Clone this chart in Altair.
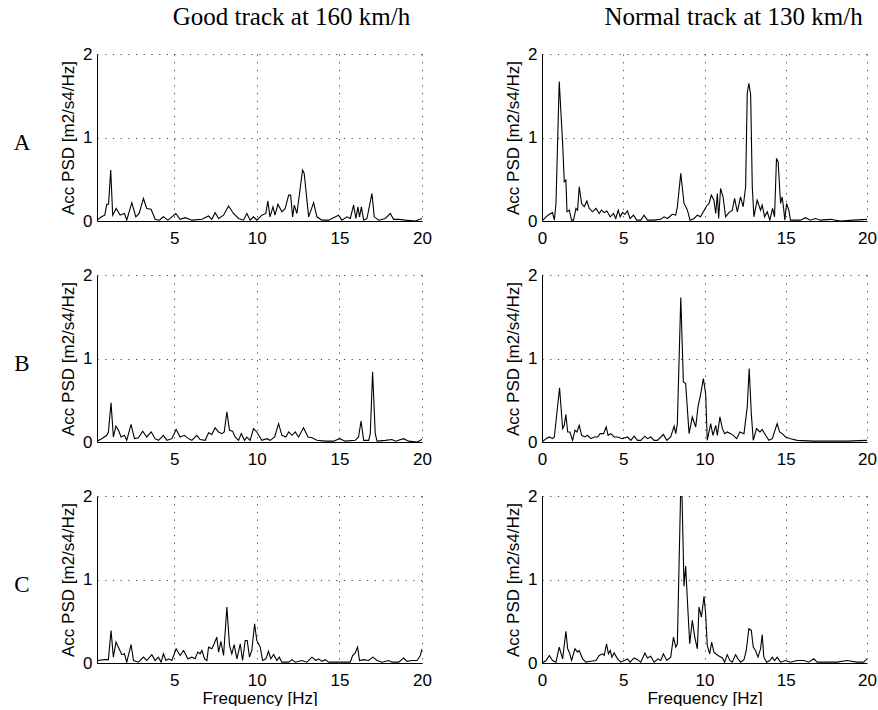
import altair as alt
import pandas as pd

# ---------------- data ----------------
col_titles = ["Good track at 160 km/h", "Normal track at 130 km/h"]
row_labels = ["A", "B", "C"]

a_good_f = [0.33, 0.6, 0.8, 0.92, 1.03, 1.16, 1.28, 1.49, 1.73, 1.99,
            2.13, 2.44, 2.68, 2.88, 3.14, 3.34, 3.6, 3.85, 4.11, 4.35,
            4.62, 4.86, 5.1, 5.36, 5.67, 6.07, 6.68, 7.08, 7.28, 7.48,
            7.69, 7.99, 8.29, 8.59, 8.9, 9.2, 9.4, 9.6, 9.8, 10.0,
            10.31, 10.55, 10.67, 10.8, 10.98, 11.1, 11.28, 11.52, 11.72, 11.93,
            12.05, 12.17, 12.27, 12.43, 12.77, 12.87, 13.14, 13.44, 13.64, 13.94,
            14.35, 14.95, 15.15, 15.46, 15.66, 15.86, 16.0, 16.12, 16.22, 16.33,
            16.47, 16.67, 16.97, 17.11, 17.38, 17.78, 18.08, 18.28, 18.59, 18.99,
            19.6, 20.0]
a_good_v = [0.01, 0.05, 0.07, 0.2, 0.2, 0.61, 0.07, 0.15, 0.07, 0.09,
            0.01, 0.22, 0.05, 0.09, 0.27, 0.15, 0.14, 0.02, 0.01, 0.05,
            0.01, 0.05, 0.09, 0.02, 0.04, 0.01, 0.02, 0.06, 0.02, 0.1,
            0.03, 0.07, 0.18, 0.09, 0.03, 0.01, 0.09, 0.01, 0.05, 0.01,
            0.07, 0.09, 0.24, 0.05, 0.17, 0.07, 0.2, 0.11, 0.15, 0.31,
            0.31, 0.05, 0.19, 0.09, 0.61, 0.57, 0.05, 0.22, 0.05, 0.01,
            0.01, 0.07, 0.01, 0.05, 0.03, 0.19, 0.03, 0.17, 0.05, 0.17,
            0.01, 0.03, 0.33, 0.05, 0.01, 0.03, 0.09, 0.02, 0.02, 0.01,
            0.0, 0.03]

a_norm_f = [0, 0.25, 0.45, 0.65, 0.76, 0.86, 1.06, 1.27, 1.37, 1.47,
            1.54, 1.68, 1.82, 1.94, 2.09, 2.19, 2.29, 2.44, 2.6, 2.76,
            2.91, 3.11, 3.32, 3.52, 3.66, 3.83, 3.99, 4.2, 4.4, 4.54,
            4.69, 4.81, 4.95, 5.1, 5.26, 5.42, 5.63, 5.83, 6.08, 6.28,
            6.49, 6.9, 7.31, 7.51, 7.72, 8.02, 8.23, 8.33, 8.54, 8.74,
            8.95, 9.11, 9.36, 9.56, 9.76, 9.93, 10.13, 10.28, 10.42, 10.58,
            10.69, 10.79, 10.87, 10.99, 11.14, 11.3, 11.5, 11.71, 11.85, 12.02,
            12.22, 12.38, 12.53, 12.63, 12.73, 12.84, 12.94, 13.04, 13.24, 13.45,
            13.55, 13.7, 13.86, 14.02, 14.19, 14.31, 14.43, 14.53, 14.68, 14.78,
            14.88, 14.94, 15.05, 15.19, 15.29, 15.91, 16.21, 16.52, 16.83, 17.13,
            17.75, 18.36, 19.18, 20.0]
a_norm_v = [0, 0.05, 0.08, 0.1, 0.01, 0.21, 1.67, 0.93, 0.47, 0.49,
            0.11, 0.13, 0.01, 0.01, 0.15, 0.13, 0.41, 0.21, 0.17, 0.24,
            0.15, 0.11, 0.15, 0.09, 0.13, 0.1, 0.12, 0.05, 0.09, 0.03,
            0.13, 0.05, 0.1, 0.08, 0.12, 0.03, 0.07, 0.01, 0.01, 0.07,
            0.01, 0.01, 0.02, 0.05, 0.03, 0.08, 0.07, 0.17, 0.57, 0.21,
            0.13, 0.01, 0.03, 0.07, 0.05, 0.11, 0.18, 0.21, 0.31, 0.25,
            0.09, 0.33, 0.03, 0.39, 0.29, 0.05, 0.1, 0.13, 0.27, 0.11,
            0.29, 0.17, 0.41, 1.53, 1.65, 1.51, 0.41, 0.05, 0.25, 0.13,
            0.19, 0.05, 0.11, 0.01, 0.15, 0.05, 0.75, 0.71, 0.21, 0.29,
            0.13, 0.01, 0.21, 0.13, 0.01, 0.01, 0.04, 0.01, 0.03, 0.01,
            0.02, 0.0, 0.01, 0.02]

b_good_f = [0.33, 0.62, 0.92, 1.02, 1.18, 1.32, 1.48, 1.63, 1.79, 1.99,
            2.13, 2.39, 2.6, 2.84, 3.1, 3.34, 3.61, 3.85, 4.05, 4.35,
            4.56, 4.86, 5.12, 5.36, 5.62, 5.87, 6.07, 6.37, 6.57, 6.88,
            7.08, 7.28, 7.48, 7.69, 7.89, 8.03, 8.19, 8.35, 8.53, 8.69,
            8.9, 9.06, 9.26, 9.4, 9.6, 9.8, 10.0, 10.31, 10.61, 10.81,
            11.08, 11.32, 11.52, 11.76, 11.93, 12.13, 12.33, 12.53, 12.83, 13.1,
            13.34, 13.64, 14.15, 14.65, 15.01, 15.36, 15.96, 16.16, 16.31, 16.47,
            16.77, 16.87, 17.01, 17.17, 17.28, 17.78, 18.18, 18.39, 18.89, 19.19,
            19.7, 20.0]
b_good_v = [0.01, 0.04, 0.08, 0.12, 0.47, 0.06, 0.19, 0.14, 0.06, 0.08,
            0.02, 0.21, 0.04, 0.05, 0.13, 0.06, 0.12, 0.04, 0.02, 0.08,
            0.02, 0.04, 0.15, 0.06, 0.08, 0.04, 0.02, 0.08, 0.03, 0.02,
            0.11, 0.09, 0.17, 0.12, 0.1, 0.12, 0.36, 0.14, 0.13, 0.06,
            0.02, 0.1, 0.02, 0.06, 0.02, 0.16, 0.12, 0.02, 0.04, 0.02,
            0.06, 0.22, 0.08, 0.06, 0.12, 0.08, 0.12, 0.06, 0.17, 0.06,
            0.05, 0.02, 0.01, 0.01, 0.04, 0.01, 0.02, 0.06, 0.25, 0.02,
            0.02, 0.1, 0.84, 0.1, 0.01, 0.02, 0.03, 0.01, 0.04, 0.01,
            0.0, 0.03]

b_norm_f = [0, 0.25, 0.45, 0.65, 0.76, 1.08, 1.27, 1.37, 1.47, 1.58,
            1.72, 1.88, 2.03, 2.15, 2.29, 2.44, 2.64, 2.8, 3.01, 3.21,
            3.42, 3.58, 3.79, 3.95, 4.07, 4.24, 4.44, 4.65, 4.95, 5.26,
            5.47, 5.67, 5.88, 6.08, 6.33, 6.49, 6.69, 6.9, 7.1, 7.47,
            7.68, 7.92, 8.13, 8.23, 8.33, 8.54, 8.7, 8.84, 9.05, 9.25,
            9.46, 9.6, 9.77, 9.93, 10.07, 10.17, 10.38, 10.52, 10.69, 10.79,
            10.95, 11.1, 11.24, 11.4, 11.61, 11.77, 11.98, 12.18, 12.43, 12.63,
            12.75, 12.88, 13.0, 13.2, 13.41, 13.55, 13.76, 13.96, 14.17, 14.47,
            14.62, 14.78, 14.99, 15.29, 15.7, 16.72, 17.75, 18.77, 20.0]
b_norm_v = [0, 0.04, 0.06, 0.04, 0.06, 0.65, 0.16, 0.2, 0.33, 0.12,
            0.12, 0.02, 0.14, 0.12, 0.2, 0.08, 0.06, 0.08, 0.04, 0.06,
            0.06, 0.1, 0.1, 0.18, 0.08, 0.1, 0.06, 0.06, 0.04, 0.06,
            0.02, 0.07, 0.02, 0.02, 0.07, 0.04, 0.06, 0.02, 0.02, 0.09,
            0.02, 0.06, 0.19, 0.1, 0.22, 1.73, 0.72, 0.7, 0.1, 0.3,
            0.18, 0.42, 0.58, 0.76, 0.58, 0.02, 0.22, 0.08, 0.2, 0.08,
            0.3, 0.16, 0.1, 0.12, 0.1, 0.08, 0.04, 0.12, 0.1, 0.42,
            0.88, 0.34, 0.02, 0.16, 0.12, 0.15, 0.08, 0.02, 0.04, 0.22,
            0.12, 0.1, 0.06, 0.04, 0.02, 0.01, 0.01, 0.01, 0.02]

c_good_f = [0.33, 0.82, 1.02, 1.18, 1.32, 1.48, 1.67, 1.83, 1.99, 2.13,
            2.39, 2.54, 2.84, 3.14, 3.34, 3.65, 3.85, 4.05, 4.21, 4.35,
            4.5, 4.66, 4.86, 5.12, 5.36, 5.57, 5.83, 6.07, 6.27, 6.43,
            6.57, 6.68, 6.84, 6.98, 7.08, 7.28, 7.42, 7.58, 7.69, 7.83,
            7.99, 8.19, 8.35, 8.49, 8.63, 8.8, 9.0, 9.14, 9.3, 9.42,
            9.56, 9.7, 9.87, 10.0, 10.21, 10.35, 10.55, 10.71, 10.85, 11.02,
            11.22, 11.36, 11.52, 11.93, 12.13, 12.33, 12.73, 13.04, 13.34, 13.58,
            13.74, 13.94, 14.15, 14.35, 14.95, 15.66, 15.8, 15.96, 16.1, 16.22,
            16.47, 16.77, 17.03, 17.28, 17.58, 17.98, 18.19, 18.59, 18.89, 19.09,
            19.39, 19.7, 19.9, 20.0]
c_good_v = [0.03, 0.04, 0.04, 0.39, 0.07, 0.25, 0.17, 0.1, 0.11, 0.01,
            0.22, 0.03, 0.01, 0.07, 0.03, 0.1, 0.03, 0.07, 0.01, 0.11,
            0.03, 0.05, 0.03, 0.17, 0.09, 0.15, 0.05, 0.07, 0.05, 0.13,
            0.11, 0.15, 0.05, 0.03, 0.19, 0.17, 0.23, 0.31, 0.13, 0.26,
            0.09, 0.67, 0.21, 0.11, 0.22, 0.05, 0.23, 0.03, 0.27, 0.27,
            0.07, 0.15, 0.47, 0.27, 0.19, 0.03, 0.05, 0.14, 0.05, 0.1,
            0.03, 0.07, 0.01, 0.01, 0.04, 0.01, 0.03, 0.01, 0.07, 0.03,
            0.05, 0.02, 0.04, 0.01, 0.01, 0.01, 0.09, 0.12, 0.19, 0.03,
            0.04, 0.03, 0.07, 0.03, 0.01, 0.03, 0.01, 0.01, 0.06, 0.02,
            0.03, 0.03, 0.09, 0.17]

c_norm_f = [0, 0.25, 0.45, 0.65, 0.86, 1.06, 1.27, 1.47, 1.58, 1.68,
            1.82, 2.03, 2.19, 2.29, 2.5, 2.7, 3.01, 3.32, 3.52, 3.72,
            3.83, 3.97, 4.09, 4.2, 4.3, 4.44, 4.65, 4.85, 5.06, 5.26,
            5.42, 5.67, 5.88, 6.08, 6.33, 6.49, 6.69, 6.9, 7.14, 7.31,
            7.47, 7.68, 7.92, 8.09, 8.23, 8.33, 8.57, 8.74, 8.84, 8.95,
            9.09, 9.25, 9.4, 9.56, 9.66, 9.81, 9.97, 10.07, 10.17, 10.32,
            10.44, 10.58, 10.83, 11.1, 11.24, 11.4, 11.56, 11.71, 11.91, 12.06,
            12.22, 12.43, 12.57, 12.73, 12.88, 13.0, 13.14, 13.29, 13.45, 13.55,
            13.65, 13.82, 14.02, 14.17, 14.31, 14.47, 14.68, 14.99, 15.29, 15.7,
            16.11, 16.42, 16.72, 16.93, 17.54, 18.16, 18.77, 19.39, 19.8, 20.0]
c_norm_v = [0, 0.03, 0.09, 0.03, 0.01, 0.19, 0.05, 0.38, 0.17, 0.13,
            0.03, 0.17, 0.13, 0.15, 0.05, 0.01, 0.02, 0.03, 0.09, 0.11,
            0.09, 0.23, 0.11, 0.15, 0.07, 0.12, 0.05, 0.01, 0.03, 0.05,
            0.01, 0.06, 0.04, 0.01, 0.12, 0.06, 0.08, 0.01, 0.05, 0.03,
            0.11, 0.03, 0.07, 0.31, 0.19, 0.23, 2.4, 0.92, 1.16, 0.74,
            0.23, 0.51, 0.31, 0.17, 0.67, 0.55, 0.8, 0.59, 0.21, 0.11,
            0.25, 0.13, 0.09, 0.06, 0.01, 0.1, 0.03, 0.01, 0.1, 0.05,
            0.01, 0.04, 0.15, 0.41, 0.39, 0.19, 0.15, 0.07, 0.17, 0.34,
            0.07, 0.01, 0.03, 0.07, 0.03, 0.07, 0.01, 0.03, 0.01, 0.03,
            0.03, 0.01, 0.05, 0.01, 0.01, 0.01, 0.03, 0.01, 0.01, 0.05]

series = [
    (a_good_f, a_good_v), (a_norm_f, a_norm_v),
    (b_good_f, b_good_v), (b_norm_f, b_norm_v),
    (c_good_f, c_good_v), (c_norm_f, c_norm_v),
]

W, H = 325, 167
SERIF = "Liberation Serif"
SANS = "Liberation Sans"
TITLE_DX = [32, 29]


def make_panel(freq, psd, col, bottom, title=None, label=None):
    left = col == 0
    df = pd.DataFrame({"f": freq, "psd": psd})
    xdom = [0.33, 20] if left else [0, 20]
    xvals = [5, 10, 15, 20] if left else [0, 5, 10, 15, 20]
    x_axis = alt.Axis(values=xvals, format="~g", title="Frequency [Hz]") if bottom \
        else alt.Axis(values=xvals, format="~g", title=None)
    line = alt.Chart(df).mark_line(color="black", strokeWidth=1.1, clip=True).encode(
        x=alt.X("f:Q", scale=alt.Scale(domain=xdom, nice=False, zero=False), axis=x_axis),
        y=alt.Y("psd:Q", scale=alt.Scale(domain=[0, 2], nice=False),
                axis=alt.Axis(values=[0, 1, 2], format="~g", title="Acc PSD [m2/s4/Hz]")),
    )
    layers = [line]
    if label is not None:
        ldf = pd.DataFrame({"lab": [label]})
        txt = alt.Chart(ldf).mark_text(font=SERIF, fontSize=23, align="center",
                                       baseline="middle", color="black").encode(
            x=alt.value(-75), y=alt.value(H / 2 + 5), text="lab:N")
        layers.append(txt)
    if title is not None:
        tdf = pd.DataFrame({"t": [title]})
        ttl = alt.Chart(tdf).mark_text(font=SERIF, fontSize=25, align="center",
                                       baseline="alphabetic", color="black").encode(
            x=alt.value(W / 2 + TITLE_DX[col]), y=alt.value(-29), text="t:N")
        layers.append(ttl)
    return alt.layer(*layers).properties(width=W, height=H)


panels = []
for i, (fr, vv) in enumerate(series):
    r, c = divmod(i, 2)
    panels.append(make_panel(
        fr, vv, c, bottom=(r == 2),
        title=col_titles[c] if r == 0 else None,
        label=row_labels[r] if c == 0 else None))

chart = alt.concat(*panels, columns=2, spacing={"row": 54, "column": 120}, bounds="flush").properties(
    padding={"left": 13, "top": 5, "right": 0, "bottom": 0},
    autosize=alt.AutoSizeParams(type="pad"),
).configure_view(strokeWidth=0).configure_axis(
    domainColor="black", domainWidth=1, ticks=False, tickSize=0,
    labelFont=SANS, labelFontSize=17, labelColor="black", labelFlush=False,
    labelOverlap=False,
    titleFont=SANS, titleFontSize=17, titleFontWeight="normal", titleColor="black",
    gridColor="#444444", gridDash=[1.2, 6.5], gridWidth=1, gridOpacity=1,
).configure_axisX(labelPadding=9, titlePadding=2).configure_axisY(labelPadding=5, titlePadding=5)

chart.save("out.html", embed_options={"renderer": "svg", "actions": False})
